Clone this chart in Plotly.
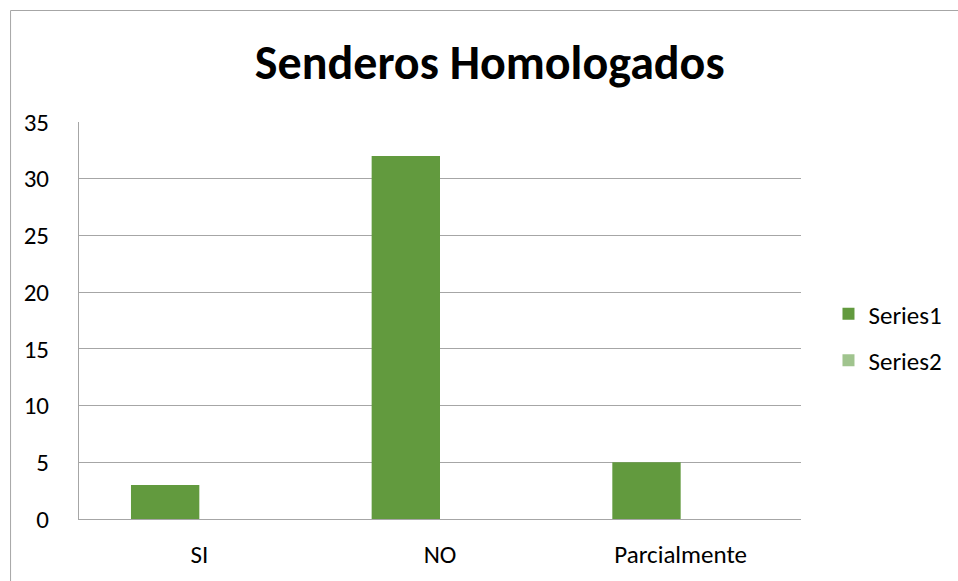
import plotly.graph_objects as go

categories = ["SI", "NO", "Parcialmente"]
series1 = [3, 32, 5]
series2 = [0, 0, 0]
y_ticks = [0, 5, 10, 15, 20, 25, 30, 35]

W, H = 958, 581
L, R, T, B = 79, 801.5, 122, 519

def px_x(p):
    return (p - L) / (R - L)

def px_y(p):
    return (B - p) / (B - T)

fig = go.Figure()
fig.add_trace(go.Bar(name="Series1", x=categories, y=series1,
                     marker=dict(color="#629A3E", line=dict(width=0)),
                     legendgroup="a", hoverinfo="skip"))
fig.add_trace(go.Bar(name="Series2", x=categories, y=series2,
                     marker=dict(color="#A0C48E", line=dict(width=0)),
                     legendgroup="b", hoverinfo="skip"))

font = "Carlito, Lato, sans-serif"
fig.update_layout(
    width=W, height=H,
    margin=dict(l=L, r=W - R, t=T, b=H - B, autoexpand=False),
    paper_bgcolor="white", plot_bgcolor="white",
    barmode="group", bargap=0.432, bargroupgap=0,
    title=dict(text="<b>Senderos Homologados</b>", x=px_x(490), xref="paper",
               xanchor="center", y=1 - 62 / H, yanchor="middle",
               font=dict(family=font, size=48, color="black")),
    font=dict(family=font, size=25, color="black"),
    showlegend=True,
    legend=dict(x=px_x(829), y=px_y(291), xanchor="left", yanchor="top",
                tracegroupgap=11, font=dict(size=25, family=font),
                bgcolor="rgba(0,0,0,0)"),
    xaxis=dict(showgrid=False, showline=True, linecolor="#A6A6A6", linewidth=1,
               ticks="", tickfont=dict(size=25, family=font), ticklabelstandoff=13,
               fixedrange=True, automargin=False),
    yaxis=dict(range=[0, 35], tickvals=y_ticks, showgrid=True, gridcolor="#A6A6A6",
               gridwidth=1, showline=True, linecolor="#A6A6A6", linewidth=1,
               ticks="", zeroline=False, tickfont=dict(size=25, family=font),
               ticklabelstandoff=24, fixedrange=True, automargin=False),
    shapes=[dict(type="rect", xref="paper", yref="paper",
                 x0=px_x(10.5), x1=px_x(990), y0=px_y(10.5), y1=px_y(640),
                 line=dict(color="#A6A6A6", width=1), fillcolor="rgba(0,0,0,0)",
                 layer="below")],
)

fig.write_html(
    "out.html",
    config={"displayModeBar": False},
    post_script="document.body.style.margin='0';document.body.style.overflow='hidden';",
)
